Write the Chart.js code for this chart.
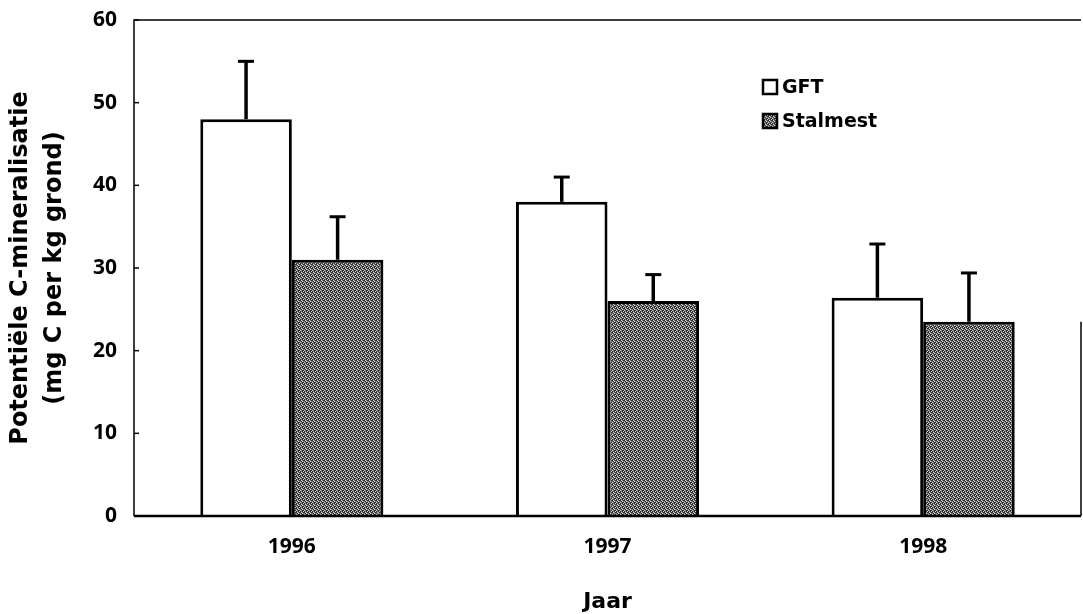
<!DOCTYPE html>
<html>
<head>
<meta charset="utf-8">
<script src="https://cdn.jsdelivr.net/npm/chart.js@4"></script>
<style>
  html, body { margin: 0; padding: 0; background: #fff; }
  #wrap { width: 1083px; height: 614px; }
</style>
</head>
<body>
<div id="wrap"><canvas id="mineralChart" width="1083" height="614"></canvas></div>
<script>
const years = ["1996", "1997", "1998"];
const gft = [48, 38, 26.4];
const stalmest = [31, 26, 23.5];
const gftErr = [7, 3, 6.5];
const stalmestErr = [5.2, 3.2, 5.9];

const TICK_FONT = "'Open Sans', sans-serif";
const TITLE_FONT = "'DejaVu Sans', sans-serif";

// stippled grey fill for the Stalmest bars
function makeStipple() {
  const c = document.createElement("canvas");
  c.width = 4; c.height = 4;
  const g = c.getContext("2d");
  const rows = ["DLMD", "MDLM", "LMDD", "DMDL"];
  const col = { D: "#303030", M: "#787878", L: "#d2d2d2" };
  rows.forEach((r, y) => {
    for (let x = 0; x < 4; x++) {
      g.fillStyle = col[r[x]];
      g.fillRect(x, y, 1, 1);
    }
  });
  return g.createPattern(c, "repeat");
}
const stipple = makeStipple();

// frame, inward ticks, error bars and legend
const extras = {
  id: "extras",
  afterDatasetsDraw(chart) {
    const ctx = chart.ctx;
    const a = chart.chartArea;
    const y = chart.scales.y;
    ctx.save();
    ctx.strokeStyle = "#000";
    ctx.lineCap = "butt";

    ctx.lineWidth = 1.5;
    ctx.beginPath();
    ctx.moveTo(a.left, a.bottom);
    ctx.lineTo(a.left, a.top);
    ctx.lineTo(a.right, a.top);
    ctx.stroke();
    ctx.beginPath();
    ctx.moveTo(a.right, y.getPixelForValue(23.5));
    ctx.lineTo(a.right, a.bottom);
    ctx.stroke();
    ctx.lineWidth = 2.5;
    ctx.beginPath();
    ctx.moveTo(a.left, a.bottom);
    ctx.lineTo(a.right, a.bottom);
    ctx.stroke();

    ctx.lineWidth = 1.5;
    y.ticks.forEach(t => {
      const py = y.getPixelForValue(t.value);
      ctx.beginPath();
      ctx.moveTo(a.left, py);
      ctx.lineTo(a.left + 5, py);
      ctx.stroke();
    });

    // error bars (upper half only)
    const errs = [gftErr, stalmestErr];
    chart.data.datasets.forEach((ds, i) => {
      const meta = chart.getDatasetMeta(i);
      meta.data.forEach((bar, j) => {
        const top = y.getPixelForValue(ds.data[j] + errs[i][j]);
        ctx.lineWidth = 3.5;
        ctx.beginPath();
        ctx.moveTo(bar.x, bar.y);
        ctx.lineTo(bar.x, top);
        ctx.stroke();
        ctx.lineWidth = 3;
        ctx.beginPath();
        ctx.moveTo(bar.x - 8, top);
        ctx.lineTo(bar.x + 8, top);
        ctx.stroke();
      });
    });

    // legend
    const lx = 763, rowsY = [87, 121];
    chart.data.datasets.forEach((ds, i) => {
      const cy = rowsY[i];
      ctx.fillStyle = ds.backgroundColor;
      ctx.fillRect(lx, cy - 7, 14, 14);
      ctx.lineWidth = 2.5;
      ctx.strokeRect(lx, cy - 7, 14, 14);
      ctx.fillStyle = "#000";
      ctx.font = "bold 19px " + TITLE_FONT;
      ctx.textBaseline = "middle";
      ctx.textAlign = "left";
      ctx.fillText(ds.label, lx + 19, cy + 1);
    });
    ctx.restore();
  }
};

new Chart(document.getElementById("mineralChart").getContext("2d"), {
  type: "bar",
  data: {
    labels: years,
    datasets: [
      {
        label: "GFT",
        data: gft,
        backgroundColor: "#ffffff",
        borderColor: "#000",
        borderWidth: 3,
        borderSkipped: "bottom"
      },
      {
        label: "Stalmest",
        data: stalmest,
        backgroundColor: stipple,
        borderColor: "#000",
        borderWidth: 3,
        borderSkipped: "bottom"
      }
    ]
  },
  options: {
    responsive: false,
    animation: false,
    devicePixelRatio: 1,
    layout: { padding: { top: 20, right: 2, left: 0, bottom: 0 } },
    datasets: { bar: { categoryPercentage: 0.58, barPercentage: 1.0 } },
    plugins: { legend: { display: false }, tooltip: { enabled: false } },
    scales: {
      x: {
        grid: { display: false, drawTicks: false },
        border: { display: false },
        ticks: {
          color: "#000",
          font: { family: TICK_FONT, size: 21, weight: "bold" },
          padding: 18
        },
        title: {
          display: true,
          text: "Jaar",
          color: "#000",
          font: { family: TITLE_FONT, size: 22, weight: "bold" },
          padding: { top: 21, bottom: -1 }
        },
        afterFit(s) {
          s.height = 98;
          s.paddingLeft = 0;
          s.paddingRight = 0;
        }
      },
      y: {
        min: 0,
        max: 60,
        grid: { display: false, drawTicks: false },
        border: { display: false },
        ticks: {
          stepSize: 10,
          color: "#000",
          font: { family: TICK_FONT, size: 21, weight: "bold" },
          padding: 17
        },
        title: {
          display: true,
          text: ["Potentiële C-mineralisatie", "(mg C per kg grond)"],
          color: "#000",
          font: { family: TITLE_FONT, size: 24, weight: "bold", lineHeight: 1.45 },
          padding: { top: 3, bottom: 0 }
        },
        afterFit(s) {
          s.width = 134;
          s.paddingTop = 0;
          s.paddingBottom = 0;
        }
      }
    }
  },
  plugins: [extras]
});
</script>
</body>
</html>
